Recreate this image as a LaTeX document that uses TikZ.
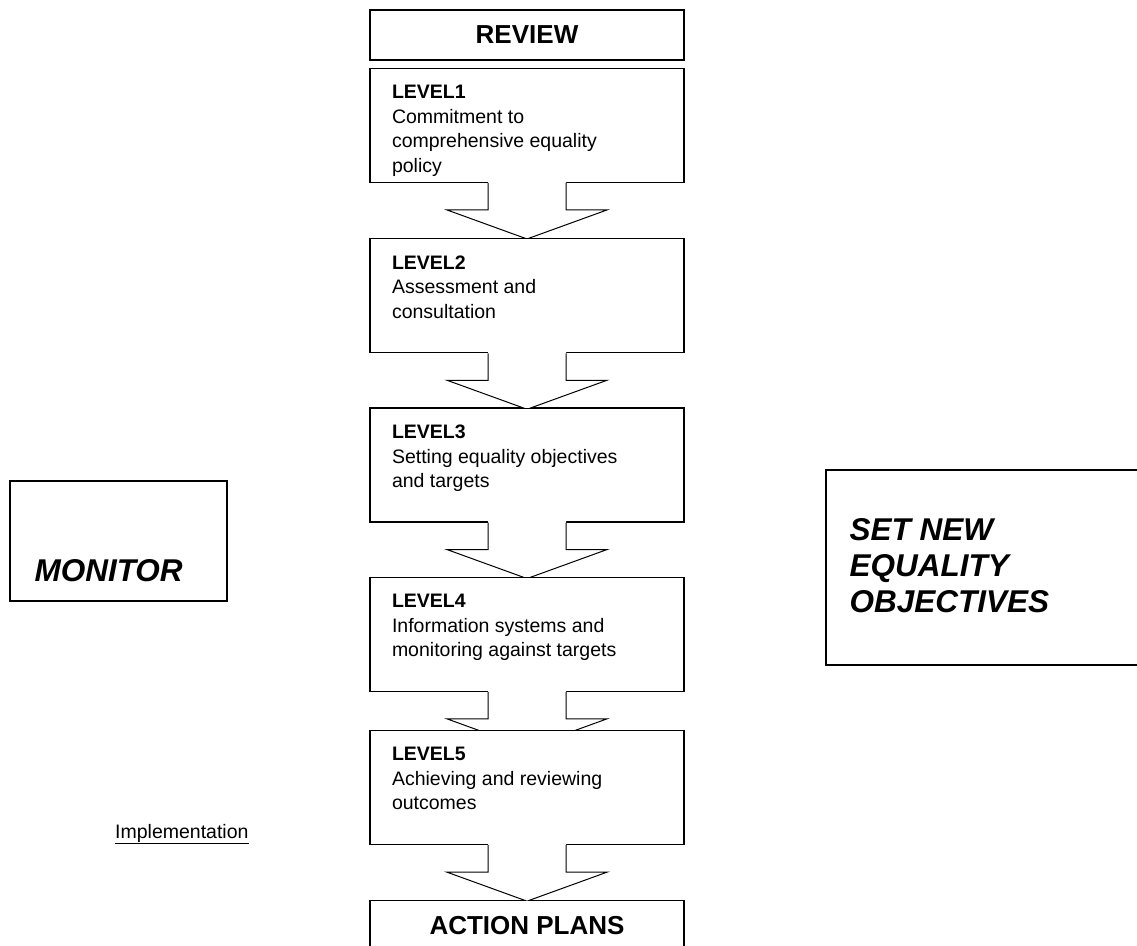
\documentclass[tikz,border=0pt]{standalone}
\usepackage{fontspec}
\setmainfont{Liberation Sans}
\usetikzlibrary{calc,positioning}

\newcommand{\levtext}[2]{\parbox[t][114pt][t]{270pt}{\vspace*{17pt}\textbf{#1}\\#2}}
\newcommand{\blockarrow}[2]{%
  \begin{scope}
    \clip ($(#1.south west)+(-60,-2)$) rectangle ($(#2.north east)+(60,0)$);
    \begin{scope}[shift={(#1.south)}]
      \fill[white] (-39,-2) -- (-39,27) -- (-80,27) -- (0,56) -- (80,27) -- (39,27) -- (39,-2) -- cycle;
      \draw[arrowline] (-39,0) -- (-39,27) -- (-80,27) -- (0,56) -- (80,27) -- (39,27) -- (39,0);
    \end{scope}
  \end{scope}}

\begin{document}
\begin{tikzpicture}[x=1pt,y=-1pt,
    box/.style={draw=black,fill=white,line width=1.3pt,rectangle},
    titlebox/.style={box,minimum width=314pt,minimum height=50pt,inner sep=0pt,font=\fontsize{26}{30}\selectfont\bfseries},
    levelbox/.style={box,minimum width=314pt,inner xsep=22pt,inner ysep=0pt,font=\fontsize{19.5}{24.5}\selectfont},
    bigtext/.style={inner sep=0pt,align=left,font=\fontsize{31.5}{36}\selectfont\bfseries\itshape},
    arrowline/.style={draw=black,line width=1pt,line join=miter}]
  \clip (0,0) rectangle (1137,945);
  \fill[white] (0,0) rectangle (1137,945);

  \node[titlebox] (review) at (527,35) {REVIEW};
  \node[levelbox,below=7pt of review] (lvl1) {\levtext{LEVEL1}{Commitment to\\comprehensive equality\\policy}};
  \node[levelbox,below=55pt of lvl1] (lvl2) {\levtext{LEVEL2}{Assessment and\\consultation}};
  \node[levelbox,below=54pt of lvl2] (lvl3) {\levtext{LEVEL3}{Setting equality objectives\\and targets}};
  \node[levelbox,below=54pt of lvl3] (lvl4) {\levtext{LEVEL4}{Information systems and\\monitoring against targets}};
  \node[levelbox,below=38pt of lvl4] (lvl5) {\levtext{LEVEL5}{Achieving and reviewing\\outcomes}};
  \node[titlebox,below=55pt of lvl5] (actions) {ACTION PLANS};

  \blockarrow{lvl1}{lvl2}
  \blockarrow{lvl2}{lvl3}
  \blockarrow{lvl3}{lvl4}
  \blockarrow{lvl4}{lvl5}
  \blockarrow{lvl5}{actions}

  \node[box,minimum width=217pt,minimum height=120pt] (monitor) at (118.5,541) {};
  \node[bigtext,anchor=base west] (monitorlbl) at ([shift={(25,101)}]monitor.north west) {MONITOR};

  \node[box,minimum width=334pt,minimum height=195pt] (newobj) at (993,567.5) {};
  \node[bigtext,anchor=base west] (newobjlbl) at ([shift={(24,143)}]newobj.north west) {SET NEW\\EQUALITY\\OBJECTIVES};

  \node[inner sep=0pt,anchor=base west,font=\fontsize{19.5}{24.5}\selectfont] (impl) at (115,838) {\underline{Implementation}};
\end{tikzpicture}
\end{document}
